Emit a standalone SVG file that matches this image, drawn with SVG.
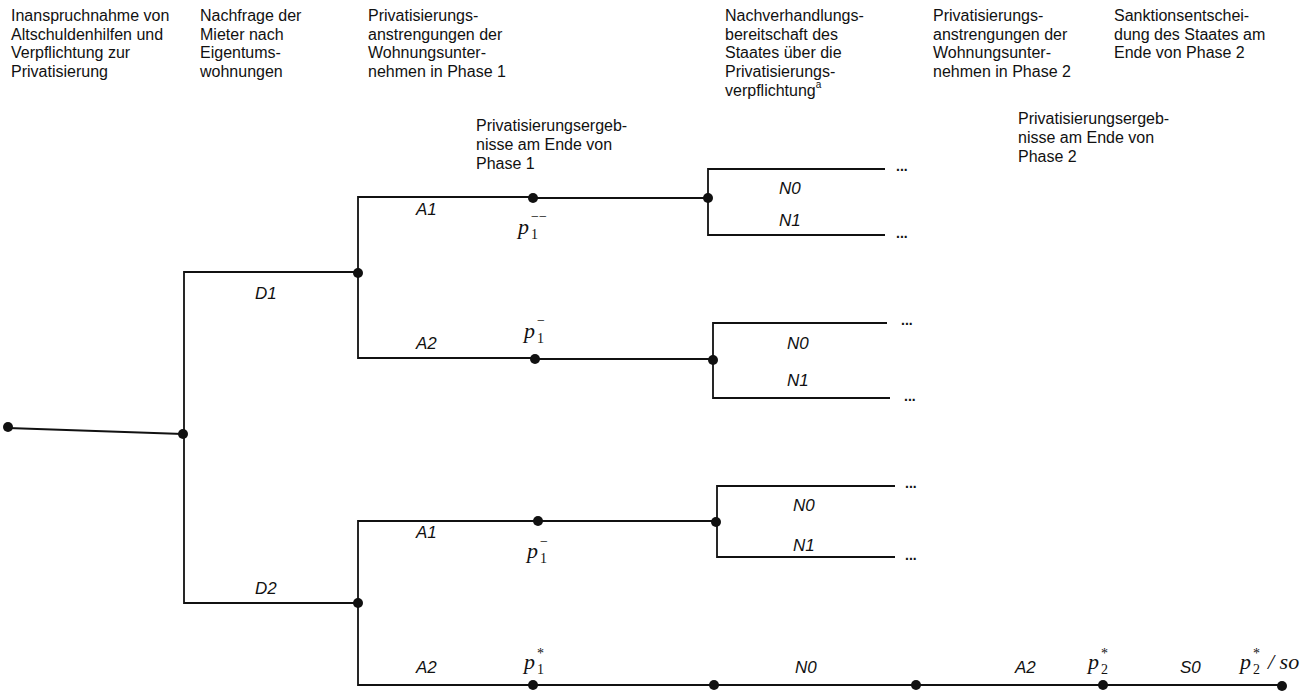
<svg xmlns="http://www.w3.org/2000/svg" width="1310" height="691" viewBox="0 0 1310 691">
<style>
.hd{font-family:"Liberation Sans",Arial,sans-serif;font-size:16px;fill:#111}
.lb{font-family:"Liberation Sans",Arial,sans-serif;font-size:17px;font-style:italic;fill:#111}
.p{font-family:"Liberation Serif","Times New Roman",serif;font-size:22px;font-style:italic;fill:#111}
.sb{font-family:"Liberation Serif","Times New Roman",serif;font-size:14px;fill:#111}
.dt{font-family:"Liberation Sans",Arial,sans-serif;font-size:14px;font-weight:bold;fill:#111}
.e{fill:none;stroke:#111;stroke-width:1.8}
.n{fill:#111}
</style>
<rect width="1310" height="691" fill="#fff"/>
<g id="headers">
<text class="hd" x="11" y="21">Inanspruchnahme von</text>
<text class="hd" x="11" y="39.7">Altschuldenhilfen und</text>
<text class="hd" x="11" y="58.4">Verpflichtung zur</text>
<text class="hd" x="11" y="77.1">Privatisierung</text>
<text class="hd" x="200" y="21">Nachfrage der</text>
<text class="hd" x="200" y="39.7">Mieter nach</text>
<text class="hd" x="200" y="58.4">Eigentums-</text>
<text class="hd" x="200" y="77.1">wohnungen</text>
<text class="hd" x="368" y="21">Privatisierungs-</text>
<text class="hd" x="368" y="39.7">anstrengungen der</text>
<text class="hd" x="368" y="58.4">Wohnungsunter-</text>
<text class="hd" x="368" y="77.1">nehmen in Phase 1</text>
<text class="hd" x="725" y="21">Nachverhandlungs-</text>
<text class="hd" x="725" y="39.7">bereitschaft des</text>
<text class="hd" x="725" y="58.4">Staates über die</text>
<text class="hd" x="725" y="77.1">Privatisierungs-</text>
<text class="hd" x="725" y="95.8">verpflichtung<tspan font-size="10" dy="-8">a</tspan></text>
<text class="hd" x="933" y="21">Privatisierungs-</text>
<text class="hd" x="933" y="39.7">anstrengungen der</text>
<text class="hd" x="933" y="58.4">Wohnungsunter-</text>
<text class="hd" x="933" y="77.1">nehmen in Phase 2</text>
<text class="hd" x="1114" y="21">Sanktionsentschei-</text>
<text class="hd" x="1114" y="39.7">dung des Staates am</text>
<text class="hd" x="1114" y="58.4">Ende von Phase 2</text>
<text class="hd" x="476" y="131">Privatisierungsergeb-</text>
<text class="hd" x="476" y="150">nisse am Ende von</text>
<text class="hd" x="476" y="169">Phase 1</text>
<text class="hd" x="1018" y="124">Privatisierungsergeb-</text>
<text class="hd" x="1018" y="143">nisse am Ende von</text>
<text class="hd" x="1018" y="162">Phase 2</text>
</g>
<g id="connectors">
<path class="e" d="M8,428 L183,434"/>
<path class="e" d="M184,434 V272 H358"/>
<path class="e" d="M184,434 V603 H358"/>
<path class="e" d="M358,273 V197 H533"/>
<path class="e" d="M358,273 V358 H535"/>
<path class="e" d="M533,198 H707"/>
<path class="e" d="M708,198 V169 H885"/>
<path class="e" d="M708,198 V235 H885"/>
<path class="e" d="M535,359 H712"/>
<path class="e" d="M713,360 V323 H887"/>
<path class="e" d="M713,360 V398 H890"/>
<path class="e" d="M358,603 V521 H538"/>
<path class="e" d="M358,603 V685 H533"/>
<path class="e" d="M538,521 H715"/>
<path class="e" d="M717,522 V486 H895"/>
<path class="e" d="M717,522 V557 H895"/>
<path class="e" d="M533,685 H1282"/>
<text class="lb" x="255" y="299">D1</text>
<text class="lb" x="255" y="594">D2</text>
<text class="lb" x="416" y="215">A1</text>
<text class="lb" x="416" y="349">A2</text>
<text class="lb" x="416" y="538">A1</text>
<text class="lb" x="416" y="673">A2</text>
<text class="lb" x="779" y="194">N0</text>
<text class="lb" x="779" y="226">N1</text>
<text class="lb" x="787" y="349">N0</text>
<text class="lb" x="787" y="386">N1</text>
<text class="lb" x="793" y="511">N0</text>
<text class="lb" x="793" y="551">N1</text>
<text class="lb" x="795" y="673">N0</text>
<text class="lb" x="1015" y="673">A2</text>
<text class="lb" x="1180" y="673">S0</text>
<text class="dt" x="896" y="171">...</text>
<text class="dt" x="896" y="238">...</text>
<text class="dt" x="901" y="325">...</text>
<text class="dt" x="904" y="401">...</text>
<text class="dt" x="905" y="488">...</text>
<text class="dt" x="905" y="560">...</text>
</g>
<g id="n-root"><circle class="n" cx="8" cy="427" r="5"/></g>
<g id="n-d"><circle class="n" cx="183" cy="434" r="5"/></g>
<g id="n-d1"><circle class="n" cx="358" cy="273" r="5"/></g>
<g id="n-d2"><circle class="n" cx="358" cy="603" r="5"/></g>
<g id="n-p1mm"><circle class="n" cx="533" cy="198" r="5"/>
<text class="p" x="518" y="234">p</text><text class="sb" x="531" y="239">1</text><text class="sb" x="531" y="221">−−</text></g>
<g id="n-N11"><circle class="n" cx="708" cy="198" r="5"/></g>
<g id="n-p1m-a"><circle class="n" cx="535" cy="359" r="5"/>
<text class="p" x="524" y="338">p</text><text class="sb" x="537" y="343">1</text><text class="sb" x="537" y="325">−</text></g>
<g id="n-N12"><circle class="n" cx="713" cy="360" r="5"/></g>
<g id="n-p1m-b"><circle class="n" cx="538" cy="521" r="5"/>
<text class="p" x="527" y="558">p</text><text class="sb" x="540" y="563">1</text><text class="sb" x="540" y="546">−</text></g>
<g id="n-N21"><circle class="n" cx="716" cy="522" r="5"/></g>
<g id="n-p1s"><circle class="n" cx="533" cy="685" r="5"/>
<text class="p" x="524" y="669">p</text><text class="sb" x="537" y="674">1</text><text class="sb" x="537" y="658">*</text></g>
<g id="n-N22"><circle class="n" cx="714" cy="685" r="5"/></g>
<g id="n-A22"><circle class="n" cx="916" cy="685" r="5"/></g>
<g id="n-p2s"><circle class="n" cx="1103" cy="685" r="5"/>
<text class="p" x="1088" y="669">p</text><text class="sb" x="1101" y="674">2</text><text class="sb" x="1101" y="658">*</text></g>
<g id="n-end"><circle class="n" cx="1282" cy="686" r="5"/>
<text class="p" x="1240" y="669">p</text><text class="sb" x="1253" y="674">2</text><text class="sb" x="1253" y="658">*</text><text class="p" x="1268" y="669" font-size="19">/ so</text></g>
</svg>
